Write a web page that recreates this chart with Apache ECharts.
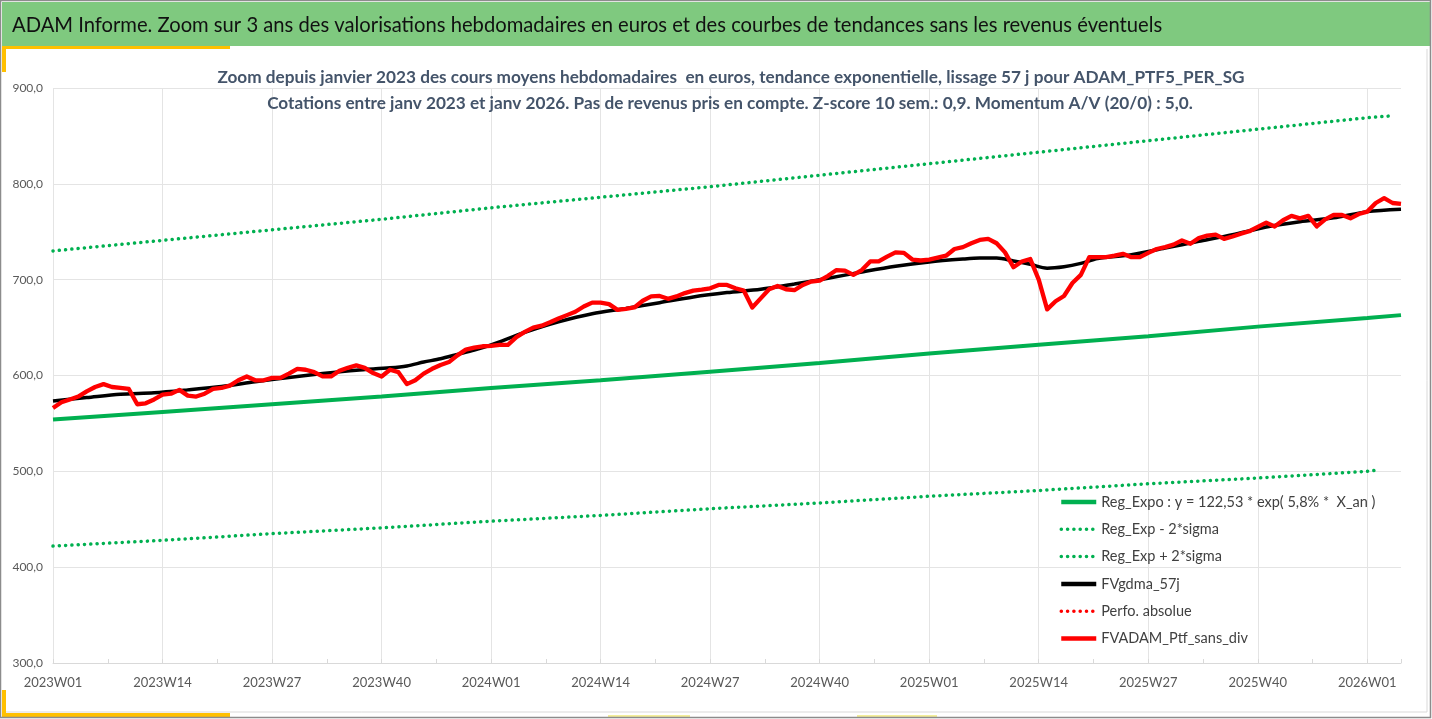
<!DOCTYPE html>
<html lang="fr">
<head>
    <meta charset="UTF-8">
    <title>ADAM_PTF5_PER_SG</title>
    <script src="https://cdn.jsdelivr.net/npm/echarts@6.0.0/dist/echarts.min.js"></script>
    <style>
        html, body { margin: 0; padding: 0; background: #fff; }
        #chart { width: 1432px; height: 719px; }
    </style>
</head>
<body>
<div id="chart"></div>
<script>
    // semaines 2023W01 .. 2026W05
    var years = [2023, 2024, 2025, 2026]
    var weeksPerYear = [52, 52, 52, 5]

    // FVADAM_Ptf_sans_div, une valeur par semaine
    var redValues = [
        566, 572, 575, 578, 583.5, 588, 591, 588, 587, 586,
        570, 571, 575, 580, 581, 585, 579, 578, 581, 586,
        587, 589.5, 595, 599, 595, 595, 597.5, 597.5, 602, 607,
        606, 603.5, 599, 599, 605, 608, 610.5, 608, 602.5, 599,
        606, 603.5, 591, 595, 602, 607, 611, 614, 621, 627,
        629, 630.5, 631, 632, 632, 640, 645.5, 650, 652, 655.5,
        659.5, 663, 666.5, 672, 676, 676, 674.5, 668.5, 669.5, 671,
        678, 682.5, 683, 680, 682.5, 686, 688.5, 689.5, 691, 694.5,
        694.5, 691, 688.5, 671, 680.5, 690, 693.5, 690, 689, 694.5,
        698, 699, 704, 710, 709.5, 705, 710, 719, 719, 724,
        728.5, 728, 721, 720, 721, 723, 725, 732, 734, 738,
        741.5, 742.5, 738, 728.5, 713, 719, 721.5, 700, 669, 677.5,
        683, 696.5, 705, 723.5, 723.5, 723.5, 725, 727, 723.5, 723.5,
        728, 732, 734, 736.5, 741, 737.5, 743.5, 746, 747, 742.5,
        745, 748, 750.5, 755, 759.5, 755.5, 762, 766.5, 764, 766.5,
        755.5, 763, 767.5, 767.5, 764, 768.5, 771, 780, 785, 780,
        779
    ]

    // FVgdma_57j, lu toutes les 2-4 semaines
    var blackIdx = [0, 4, 8, 12, 16, 20, 24, 28, 32, 36, 40, 42, 44, 46, 48, 50, 52, 56, 60, 64,
        68, 72, 76, 80, 84, 88, 92, 96, 100, 104, 108, 110, 112, 114, 116, 118, 120, 122, 124, 128,
        132, 136, 140, 144, 148, 152, 156, 160]
    var blackValues = [573.5, 577, 580.5, 582, 585, 588.5, 593.5, 598, 602, 605.5, 608, 610, 614, 617.5, 622, 626.5, 632, 645, 656, 664.5,
        670, 676, 682, 686.5, 690, 695.5, 701.5, 708, 714, 718.5, 721.5, 722.5, 722.5, 719.5, 716, 712, 713.5, 717, 722, 726,
        733, 740, 747, 755, 760.5, 764.5, 771, 773.5]

    // courbes de tendance, lues aux graduations
    var expoIdx = [0, 13, 26, 39, 52, 65, 78, 91, 104, 117, 130, 143, 156, 160]
    var expoValues = [554, 562, 570, 578, 587, 595, 604, 613, 623, 632, 641, 651, 660, 663]
    var upperIdx = [0, 13, 26, 39, 52, 65, 78, 91, 104, 117, 130, 143, 156, 159]
    var upperValues = [730, 741, 752, 763, 775, 786, 797, 809, 821, 833, 845, 857, 869, 871]
    var lowerIdx = [0, 13, 26, 39, 52, 65, 78, 91, 104, 117, 130, 143, 156, 157]
    var lowerValues = [422, 428, 435, 441, 448, 454, 461, 467, 474, 480, 487, 493, 500, 501]

    var legendNames = ['Reg_Expo : y = 122,53 * exp( 5,8% *  X_an )', 'Reg_Exp - 2*sigma', 'Reg_Exp + 2*sigma',
        'FVgdma_57j', 'Perfo. absolue', 'FVADAM_Ptf_sans_div']
    var legendDotted = [false, true, true, false, true, false]

    var weeks = []
    for (var y = 0; y < years.length; y++) {
        for (var w = 1; w <= weeksPerYear[y]; w++) {
            weeks.push(years[y] + 'W' + (w < 10 ? '0' + w : w))
        }
    }

    function sparse(idx, vals) {
        var out = weeks.map(function () { return null })
        for (var i = 0; i < idx.length; i++) out[idx[i]] = vals[i]
        return out
    }

    var font = 'Lato, "Liberation Sans", sans-serif'
    var green = '#00b050'
    var dots = [0.1, 6.2]
    var every13 = function (index) { return index % 13 === 0 }

    var legendData = legendNames.map(function (n, i) {
        return { name: n, lineStyle: { width: legendDotted[i] ? 3.5 : 4.5 } }
    })

    var chart = echarts.init(document.getElementById('chart'))
    chart.setOption({
        backgroundColor: '#ffffff',
        animation: false,
        textStyle: { fontFamily: font },
        grid: { left: 53, right: 31, top: 88, bottom: 56, containLabel: false },
        graphic: [
            { type: 'rect', shape: { x: 0.5, y: 0.5, width: 1430, height: 717 },
              style: { fill: 'none', stroke: '#8c8c8c', lineWidth: 1.5 }, z: 100 },
            { type: 'rect', shape: { x: 2, y: 2, width: 1428, height: 44 }, style: { fill: '#7fc97f' } },
            { type: 'text', x: 12, y: 25, style: { text: 'ADAM Informe. Zoom sur 3 ans des valorisations hebdomadaires en euros et des courbes de tendances sans les revenus éventuels',
                fontFamily: font, fontSize: 20.2, fill: '#111', verticalAlign: 'middle' } },
            { type: 'rect', shape: { x: 2, y: 46, width: 228, height: 3 }, style: { fill: '#ffc000' } },
            { type: 'rect', shape: { x: 2, y: 46, width: 4, height: 26 }, style: { fill: '#ffc000' } },
            { type: 'rect', shape: { x: 2, y: 690, width: 4, height: 27 }, style: { fill: '#ffc000' } },
            { type: 'rect', shape: { x: 2, y: 713, width: 228, height: 4 }, style: { fill: '#ffc000' } },
            { type: 'rect', shape: { x: 608, y: 715, width: 82, height: 3 }, style: { fill: '#f3ee9a' } },
            { type: 'rect', shape: { x: 857, y: 715, width: 80, height: 3 }, style: { fill: '#f3ee9a' } },
            { type: 'line', shape: { x1: 1427, y1: 49, x2: 1427, y2: 712 }, style: { stroke: '#d9d9d9', lineWidth: 1 } },
            { type: 'line', shape: { x1: 6, y1: 712, x2: 1427, y2: 712 }, style: { stroke: '#d9d9d9', lineWidth: 1 } },
            { type: 'text', x: 731, y: 77, z: 50, style: { text: 'Zoom depuis janvier 2023 des cours moyens hebdomadaires  en euros, tendance exponentielle, lissage 57 j pour ADAM_PTF5_PER_SG',
                fontFamily: font, fontSize: 17.2, fontWeight: 'bold', fill: '#44546a', align: 'center', verticalAlign: 'middle' } },
            { type: 'text', x: 730, y: 103, z: 50, style: { text: 'Cotations entre janv 2023 et janv 2026. Pas de revenus pris en compte. Z-score 10 sem.: 0,9. Momentum A/V (20/0) : 5,0.',
                fontFamily: font, fontSize: 17.2, fontWeight: 'bold', fill: '#44546a', align: 'center', verticalAlign: 'middle' } }
        ],
        legend: {
            orient: 'vertical',
            left: 1059,
            top: 493,
            padding: 0,
            itemWidth: 35,
            itemHeight: 14,
            itemGap: 9.3,
            itemStyle: { opacity: 0 },
            data: legendData,
            textStyle: { fontFamily: font, fontSize: 14.5, color: '#404040', lineHeight: 18 }
        },
        xAxis: [{
            type: 'category',
            data: weeks,
            boundaryGap: false,
            axisLine: { show: true, lineStyle: { color: '#d9d9d9', width: 1 } },
            axisTick: { show: false },
            axisLabel: { interval: every13, color: '#595959', fontSize: 13, margin: 13, fontFamily: font },
            splitLine: { show: true, interval: every13, lineStyle: { color: '#e4e4e4', width: 1 } }
        }, {
            type: 'value',
            min: 0,
            max: 160,
            interval: 6.5,
            position: 'bottom',
            axisLine: { show: false },
            axisTick: { show: true, inside: true, length: 4, lineStyle: { color: '#d9d9d9' } },
            axisLabel: { show: false },
            splitLine: { show: false }
        }],
        yAxis: {
            type: 'value',
            min: 300,
            max: 900,
            interval: 100,
            axisLine: { show: false },
            axisTick: { show: false },
            axisLabel: {
                color: '#595959', fontSize: 12, margin: 10, fontFamily: font,
                formatter: function (v) { return v.toFixed(1).replace('.', ',') }
            },
            splitLine: { lineStyle: { color: '#e4e4e4', width: 1 } }
        },
        series: [
            { name: legendNames[0], type: 'line', data: sparse(expoIdx, expoValues), connectNulls: true,
              symbol: 'none', lineStyle: { color: green, width: 4 }, itemStyle: { color: green }, z: 2 },
            { name: legendNames[1], type: 'line', data: sparse(lowerIdx, lowerValues), connectNulls: true,
              symbol: 'none', lineStyle: { color: green, width: 3.5, type: dots, cap: 'round' }, itemStyle: { color: green }, z: 2 },
            { name: legendNames[2], type: 'line', data: sparse(upperIdx, upperValues), connectNulls: true,
              symbol: 'none', lineStyle: { color: green, width: 3.5, type: dots, cap: 'round' }, itemStyle: { color: green }, z: 2 },
            { name: legendNames[3], type: 'line', data: sparse(blackIdx, blackValues), connectNulls: true, smooth: 0.3,
              symbol: 'none', lineStyle: { color: '#000000', width: 3.5 }, itemStyle: { color: '#000000' }, z: 3 },
            { name: legendNames[4], type: 'line', data: [],
              symbol: 'none', lineStyle: { color: '#ff0000', width: 3.5, type: dots, cap: 'round' }, itemStyle: { color: '#ff0000' }, z: 3 },
            { name: legendNames[5], type: 'line', data: redValues,
              symbol: 'none', lineStyle: { color: '#ff0000', width: 4.3, join: 'round' }, itemStyle: { color: '#ff0000' }, z: 4 }
        ]
    })
</script>
</body>
</html>
